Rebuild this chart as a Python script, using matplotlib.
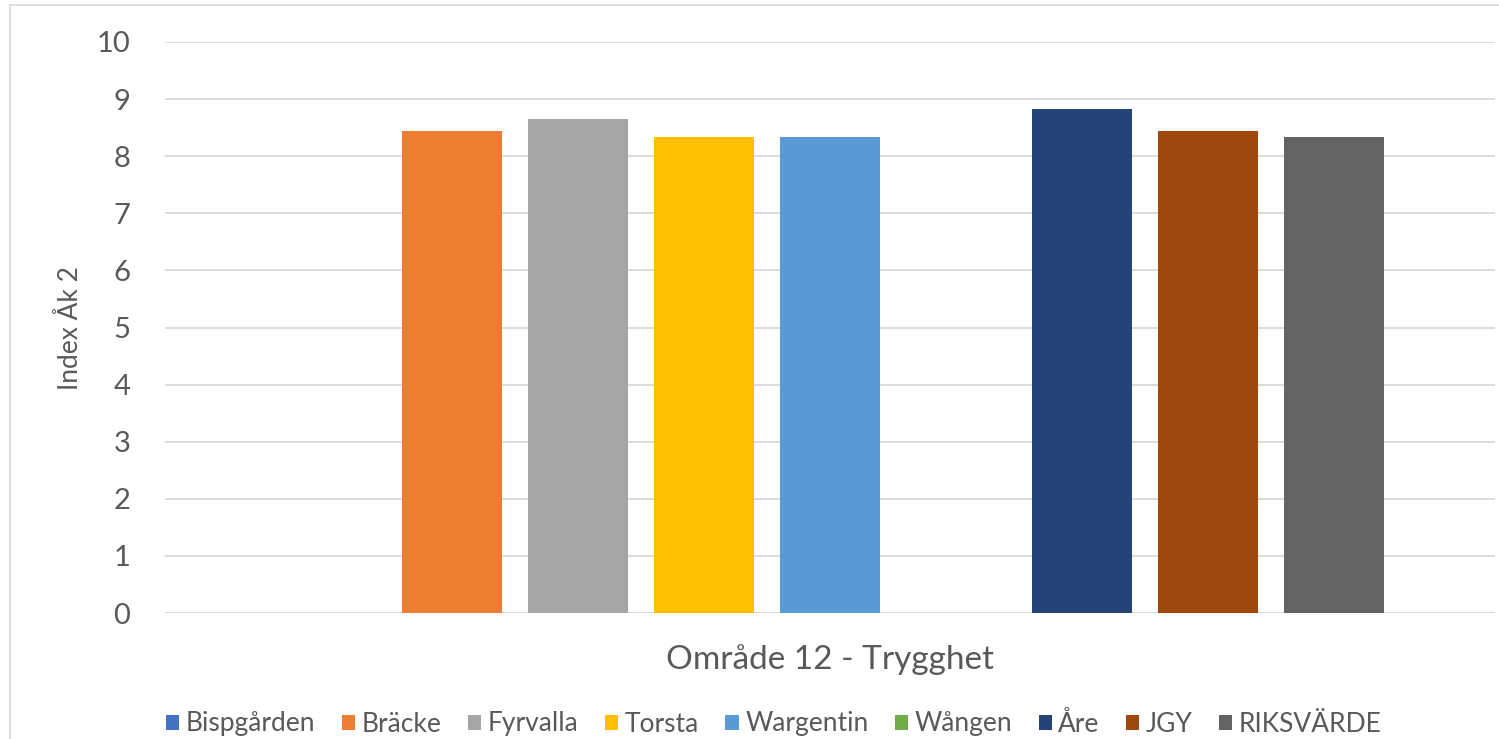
import matplotlib
matplotlib.use("Agg")
import matplotlib.pyplot as plt
import numpy as np

# data
category = "Område 12 - Trygghet"
series = ["Bispgården", "Bräcke", "Fyrvalla", "Torsta", "Wargentin",
          "Wången", "Åre", "JGY", "RIKSVÄRDE"]
values = [np.nan, 8.45, 8.65, 8.33, 8.33, np.nan, 8.82, 8.45, 8.33]
colors = ["#4472c4", "#ed7d31", "#a5a5a5", "#ffc000", "#5b9bd5",
          "#70ad47", "#264478", "#9e480e", "#636363"]
yticks = list(range(0, 11))

text_col = "#595959"
font = ["Lato", "DejaVu Sans"]

fig = plt.figure(figsize=(14.99, 7.39), dpi=100)
ax = fig.add_axes([165 / 1499, 1 - 613 / 739, 1330 / 1499, 571 / 739])

slot = 126 / 1330
width = 100 / 1330
for i, (name, v, c) in enumerate(zip(series, values, colors)):
    x = (i - (len(series) - 1) / 2) * slot
    h = 0 if np.isnan(v) else v
    ax.bar(x, h, width=width, color=c, label=name, zorder=3)

ax.set_xlim(-0.5, 0.5)
ax.set_ylim(0, 10)
ax.set_yticks(yticks)
ax.set_yticklabels([str(t) for t in yticks], fontsize=21, color=text_col,
                   family=font)
ax.set_xticks([])
ax.tick_params(axis="y", length=0, pad=25)
ax.grid(axis="y", color="#d9d9d9", linewidth=1.3, zorder=0)
for s in ax.spines.values():
    s.set_visible(False)

fig.text(70 / 1499, 1 - 328 / 739, "Index Åk 2", fontsize=19, color=text_col,
         rotation=90, ha="center", va="center", family=font)

fig.text(830 / 1499, 1 - 660 / 739, category, fontsize=24, color=text_col,
         ha="center", va="center", family=font)

leg = fig.legend(loc="center", bbox_to_anchor=(774 / 1499, 1 - 724 / 739),
                 ncol=len(series), frameon=False, prop={"family": font, "size": 19},
                 handlelength=0.5, handleheight=0.5, handletextpad=0.25,
                 columnspacing=1.0)
for t in leg.get_texts():
    t.set_color(text_col)

# light frame around the chart area
fig.add_artist(plt.Line2D([10 / 1499, 10 / 1499], [0, 1 - 5 / 739],
                          color="#d9d9d9", linewidth=1.2))
fig.add_artist(plt.Line2D([10 / 1499, 1], [1 - 5 / 739, 1 - 5 / 739],
                          color="#d9d9d9", linewidth=1.2))

fig.savefig("out.png", dpi=100)
